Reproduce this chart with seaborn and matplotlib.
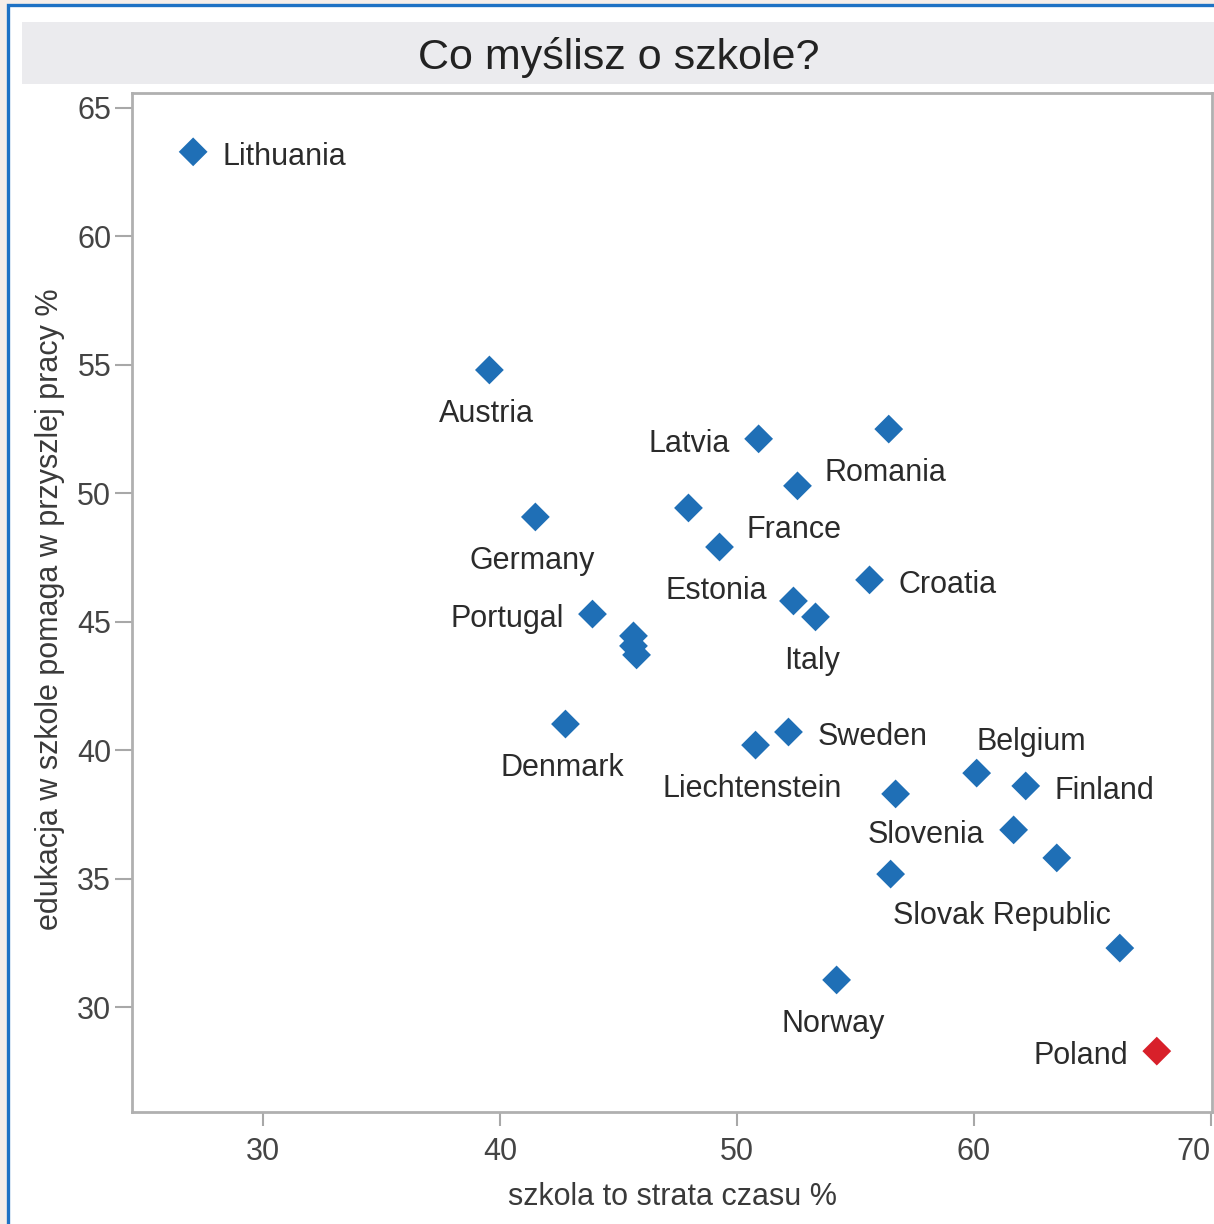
import matplotlib
matplotlib.use("Agg")
import matplotlib.pyplot as plt
import seaborn as sns
import pandas as pd
from matplotlib.patches import Rectangle

# ---- data ----
countries = ["Lithuania", "Austria", "Latvia", "Romania", "France", "Germany", "",
             "Estonia", "Croatia", "", "Italy", "Portugal", "", "", "",
             "Denmark", "Liechtenstein", "Sweden", "Belgium", "Finland", "",
             "Slovenia", "", "Slovak Republic", "", "Norway", "Poland"]
waste_pct = [27.06, 39.56, 50.92, 56.41, 52.56, 41.50, 47.96,
             49.27, 55.60, 52.39, 53.32, 43.91, 45.64, 45.64, 45.77,
             42.77, 50.79, 52.18, 60.12, 62.19, 56.70,
             61.68, 63.50, 56.49, 66.16, 54.21, 67.72]
helps_pct = [63.29, 54.80, 52.12, 52.50, 50.29, 49.08, 49.43,
             47.91, 46.63, 45.81, 45.19, 45.30, 44.45, 44.06, 43.71,
             41.02, 40.20, 40.71, 39.11, 38.61, 38.30,
             36.90, 35.81, 35.18, 32.30, 31.06, 28.29]
label_side = ["right", "below", "left", "below", "below", "below", "",
              "below", "right", "", "below", "left", "", "", "",
              "below", "below", "right", "above_l", "right", "",
              "left", "", "below_l", "", "below", "left"]
group = ["Poland" if c == "Poland" else "other" for c in countries]

title = "Co myślisz o szkole?"
x_label = "szkola to strata czasu %"
y_label = "edukacja w szkole pomaga w przyszlej pracy %"
x_ticks = [30, 40, 50, 60, 70]
y_ticks = [30, 35, 40, 45, 50, 55, 60, 65]

df = pd.DataFrame({"country": countries, "waste": waste_pct,
                   "helps": helps_pct, "side": label_side, "group": group})

# ---- styling ----
sns.set_theme(style="white")
plt.rcParams["font.family"] = ["Liberation Sans", "DejaVu Sans"]

W, H = 1214, 1224
fig = plt.figure(figsize=(W / 100, H / 100), dpi=100, facecolor="#f6eee9")

# blue frame with white interior
fig.patches.append(Rectangle((8 / W, -0.02), 1.1, 1 - 5 / H + 0.02,
                             transform=fig.transFigure, facecolor="white",
                             edgecolor="#1f72c4", lw=2.4, zorder=-2))
# grey title strip
fig.patches.append(Rectangle((22 / W, 1 - 84 / H), 1.0, 62 / H,
                             transform=fig.transFigure, facecolor="#ebebee",
                             edgecolor="none", zorder=-1))
fig.text(619 / W, 1 - 58 / H, title, ha="center", va="center",
         fontsize=31, color="#222222")

ax = fig.add_axes([132 / W, 1 - 1112 / H, 1080 / W, 1019 / H])
ax.set_facecolor("white")

sns.scatterplot(data=df, x="waste", y="helps", hue="group",
                palette={"other": "#1f6fb6", "Poland": "#d8202a"},
                marker="D", s=215, edgecolor="none", legend=False, ax=ax,
                zorder=3)

offsets = {
    "right": ((29, -5), "left"),
    "left": ((-29, -5), "right"),
    "below": ((-3, -44), "center"),
    "above_l": ((0, 31), "left"),
    "below_l": ((2, -42), "left"),
}
for _, r in df.iterrows():
    if not r["country"]:
        continue
    (dx, dy), ha = offsets[r["side"]]
    ax.annotate(r["country"], (r["waste"], r["helps"]), xytext=(dx, dy),
                textcoords="offset pixels", ha=ha, va="center",
                fontsize=22, color="#2b2b2b", zorder=4)

ax.set_xlim(24.48, 70.05)
ax.set_ylim(25.92, 65.58)
ax.set_xticks(x_ticks)
ax.set_yticks(y_ticks)
ax.tick_params(axis="x", direction="out", length=10, width=1.5,
               color="#a8a8a8", labelsize=22, labelcolor="#444444", pad=8,
               bottom=True)
ax.tick_params(axis="y", direction="out", length=12, width=1.5,
               color="#a8a8a8", labelsize=22, labelcolor="#444444", pad=3,
               left=True)
ax.get_xticklabels()[-1].set_ha("right")
for sp in ax.spines.values():
    sp.set_color("#b0b0b0")
    sp.set_linewidth(2)

ax.set_xlabel(x_label, fontsize=22, color="#3a3a3a")
ax.set_ylabel(y_label, fontsize=22, color="#3a3a3a")
ax.xaxis.set_label_coords(0.5, -(1197 - 1112) / 1019)
ax.xaxis.label.set_va("center")
ax.yaxis.set_label_coords(-(132 - 50) / 1080, (1112 - 609) / 1019)
ax.yaxis.label.set_va("center")

fig.savefig("out.png", dpi=100, facecolor=fig.get_facecolor())
